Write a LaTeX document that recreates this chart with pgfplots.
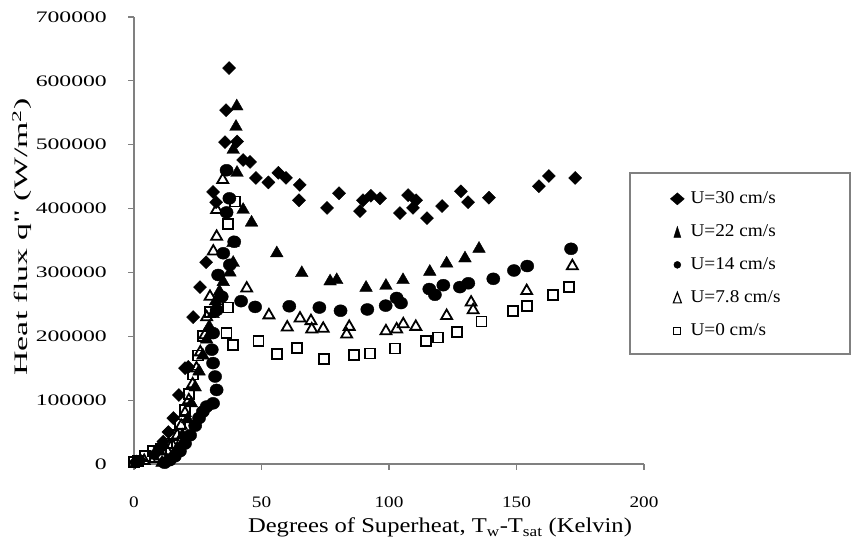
\documentclass[border=0pt]{standalone}
\usepackage{pgfplots}
\pgfplotsset{compat=1.18}
\usepackage{fontspec}
\setmainfont{Liberation Serif}
\newfontfamily\ytickfont{Liberation Serif}[FakeStretch=1.48]
\newfontfamily\xtickfont{Liberation Serif}[FakeStretch=1.2]
\newfontfamily\xlabfont{Liberation Serif}[FakeStretch=1.17]
\newfontfamily\ylabfont{Liberation Serif}[FakeStretch=1.78]
\newfontfamily\legfont{Liberation Serif}[FakeStretch=1.07]
\definecolor{axisgray}{RGB}{128,128,128}

\begin{document}
\begin{tikzpicture}
\path[use as bounding box] (0,0) rectangle (851pt,543pt);
\begin{axis}[
  at={(134pt,79pt)}, anchor=south west,
  scale only axis, width=510pt, height=447pt,
  xmin=0, xmax=200, ymin=0, ymax=700000,
  clip=false,
  axis x line*=bottom, axis y line*=left,
  axis line style={draw=axisgray, line width=1.2pt, -},
  xtick={0,50,100,150,200},
  ytick={0,100000,200000,300000,400000,500000,600000,700000},
  tick align=outside,
  major tick length=6pt,
  every tick/.style={draw=axisgray, line width=1.2pt},
  scaled y ticks=false,
  /pgf/number format/assume math mode=true,
  yticklabel style={font=\ytickfont\fontsize{16}{18}\selectfont,
    /pgf/number format/fixed, /pgf/number format/1000 sep={},
    anchor=east, inner sep=0pt, xshift=-21pt},
  xticklabel style={font=\xtickfont\fontsize{16}{18}\selectfont,
    anchor=north, inner sep=0pt, yshift=-27pt},
  legend cell align=left,
  legend style={at={(axis description cs:1.045,0.635)}, anchor=north west,
    draw=none, fill=none, font=\legfont\fontsize{18}{20}\selectfont,
    row sep=0pt, column sep=6pt,
    nodes={inner sep=0pt, text height=21pt, text depth=12pt}},
]

% U = 30 cm/s
\addplot[only marks, mark=square*, mark size=4.6pt,
  mark options={rotate=45, fill=black, draw=black},
  legend image code/.code={\fill[black] (-7pt,0pt)--(0pt,6pt)--(7pt,0pt)--(0pt,-6pt)--cycle;}]
coordinates {
(0.5,3000) (2.5,6000) (8,15000) (10,25000) (11.5,35000) (13.5,50000)
(15.4,72000) (17.6,108000) (20,150000) (21.3,152000) (23.2,230000)
(25.9,277000) (28.3,316000) (31,426000) (32.2,410000) (35.7,504000)
(36.1,554000) (37.3,620000) (40.4,505000) (42.8,476000) (45.5,473000)
(47.8,448000) (52.7,441000) (56.6,456000) (59.6,448000) (64.7,413000)
(65,437000) (75.7,401000) (80.4,424000) (88.6,396000) (89.8,413000)
(92.9,420000) (96.5,416000) (104.3,393000) (107.5,421000) (109.4,401000)
(110.6,413000) (114.9,385000) (120.8,404000) (128.2,427000) (131,410000)
(139.2,417000) (158.8,435000) (162.7,451000) (173,448000)
};
\addlegendentry{U=30 cm/s}

% U = 22 cm/s
\addplot[only marks, mark=triangle*, mark size=7.3pt,
  mark options={fill=black, draw=black},
  legend image code/.code={\fill[black] (-3.5pt,-5.5pt)--(0pt,5.5pt)--(3.5pt,-5.5pt)--cycle;}]
coordinates {
(11,2000) (13,5000) (15,12000) (17,25000) (19,45000) (21,70000)
(22.5,95000) (24,120000) (25.5,145000) (27,170000) (28.5,195000)
(29.5,215000) (31,235000) (32,255000) (33.5,270000) (35,285000)
(37.6,300000) (38.9,315000) (38.8,346000) (40.4,456000) (38.9,492000)
(40,528000) (40.3,560000) (42.8,398000) (46.1,378000) (56,330000)
(65.8,299000) (76.9,286000) (79.5,288000) (91,276000) (98.8,279000)
(105.5,288000) (116,301000) (122.6,314000) (129.8,322000) (135.3,337000)
};
\addlegendentry{U=22 cm/s}

% U = 14 cm/s
\addplot[only marks, mark=*, mark size=6pt,
  mark options={xscale=1.1, fill=black, draw=black},
  legend image code/.code={\fill[black] (0pt,0pt) circle (3.5pt);}]
coordinates {
(12,2000) (14,6000) (16,12000) (18,20000) (20,32000) (22,45000)
(24,60000) (25.5,72000) (27,82000) (28.5,90000) (31,95000) (32.4,116000)
(31.8,137000) (31,158000) (30.5,179000) (31,205000) (32.4,241000)
(34.4,262000) (33,296000) (35,330000) (37.6,312000) (39.3,348000)
(36.3,394000) (37.4,416000) (36.3,460000) (42,255000) (47.5,246000)
(60.9,247000) (72.7,245000) (81,240000) (91.5,242000) (98.7,248000)
(103,260000) (104.7,252000) (115.8,274000) (118,265000) (121.3,280000)
(127.8,277000) (131.1,283000) (140.9,290000) (149,303000) (154.2,310000)
(171.4,337000)
};
\addlegendentry{U=14 cm/s}

% U = 7.8 cm/s
\addplot[only marks, mark=triangle, mark size=6.3pt,
  mark options={fill=white, draw=black, line width=1.8pt},
  legend image code/.code={\draw[black, fill=white, line width=1.2pt] (-4pt,-5pt)--(0pt,5.5pt)--(4pt,-5pt)--cycle;}]
coordinates {
(1,2000) (4,5000) (8,8000) (11,12000) (13,20000) (15,30000) (17,45000)
(18.5,60000) (20,80000) (21.5,100000) (23,125000) (24.5,150000)
(26,175000) (27.8,202000) (28.5,230000) (29.8,262000) (31.1,333000)
(32.4,356000) (32.4,398000) (34.8,445000) (44.2,275000) (52.9,233000)
(60.1,214000) (65.1,228000) (69.4,224000) (69.7,211000) (74.2,212000)
(83.4,203000) (84.4,215000) (98.8,208000) (103,211000) (105.6,219000)
(110.5,215000) (122.6,232000) (132.2,253000) (133,241000) (154,271000)
(171.9,310000)
};
\addlegendentry{U=7.8 cm/s}

% U = 0 cm/s
\addplot[only marks, mark=square, mark size=5pt,
  mark options={fill=white, draw=black, line width=1.8pt},
  legend image code/.code={\draw[black, fill=white, line width=1.2pt] (-3.5pt,-3.5pt) rectangle (3.5pt,3.5pt);}]
coordinates {
(0,3000) (1.5,5000) (4.3,12000) (7.6,20000) (10.5,24000) (13,32000)
(15.5,45000) (18,62000) (20,85000) (21.5,110000) (23,140000)
(25,170000) (27,200000) (29.8,238000) (37,245000) (36.3,205000)
(38.9,186000) (37,376000) (39.6,411000) (48.8,193000) (56.2,172000)
(63.8,182000) (74.6,164000) (86.4,171000) (92.5,173000) (102.4,181000)
(114.5,193000) (119.1,198000) (126.8,207000) (136.3,223000)
(148.7,240000) (154,248000) (164.2,265000) (170.7,277000)
};
\addlegendentry{U=0 cm/s}
\end{axis}
% axis titles
\node[font=\xlabfont\fontsize{21}{24}\selectfont, anchor=base, inner sep=0pt]
  at (440pt,10pt) {Degrees of Superheat, T\textsubscript{w}-T\textsubscript{sat} (Kelvin)};
\node[font=\ylabfont\fontsize{19}{22}\selectfont, rotate=90, anchor=center, inner sep=0pt]
  at (22pt,306pt) {Heat flux q" (W/m\textsuperscript{2})};
% legend frame
\draw[axisgray, line width=1.3pt] (630pt,189pt) rectangle (850pt,370pt);
\end{tikzpicture}
\end{document}
